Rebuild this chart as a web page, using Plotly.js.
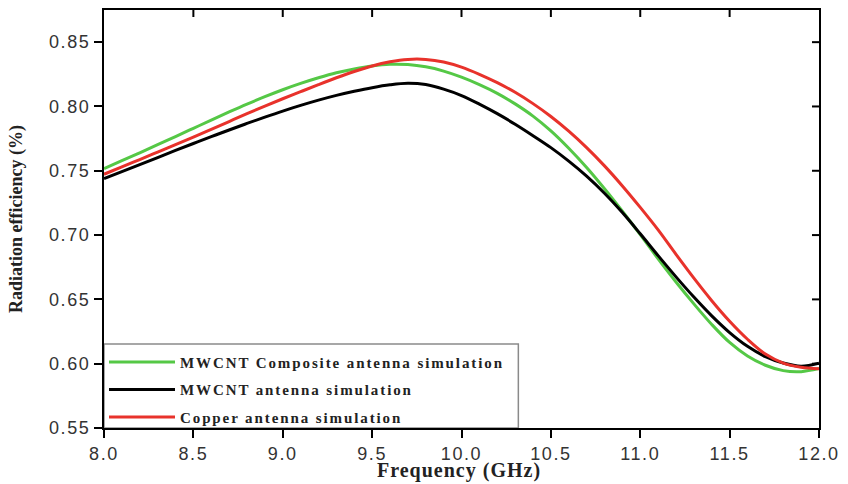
<!DOCTYPE html>
<html>
<head>
<meta charset="utf-8">
<script src="https://cdn.plot.ly/plotly-3.0.1.min.js"></script>
<style>
  html, body { margin: 0; padding: 0; background: #fff; }
  #chart { width: 848px; height: 484px; }
  .legendtext { letter-spacing: 1.9px; }
  .xtick text, .ytick text { letter-spacing: 1.6px; }
  .annotation-text { letter-spacing: 1px; }
</style>
</head>
<body>
<div id="chart"></div>
<script>
// Frequency (GHz)
const freq = [8.0, 8.1, 8.2, 8.3, 8.4, 8.5, 8.6, 8.7, 8.8, 8.9,
              9.0, 9.1, 9.2, 9.3, 9.4, 9.5, 9.6, 9.7, 9.8, 9.9,
              10.0, 10.1, 10.2, 10.3, 10.4, 10.5, 10.6, 10.7, 10.8, 10.9,
              11.0, 11.1, 11.2, 11.3, 11.4, 11.5, 11.6, 11.7, 11.8, 11.9, 12.0];

// MWCNT Composite antenna simulation
const compositeEff = [0.7517, 0.7578, 0.7640, 0.7703, 0.7766, 0.7830, 0.7894, 0.7957, 0.8018, 0.8076,
                      0.8130, 0.8179, 0.8223, 0.8262, 0.8292, 0.8315, 0.8328, 0.8326, 0.8308, 0.8275,
                      0.8228, 0.8170, 0.8102, 0.8020, 0.7925, 0.7810, 0.7675, 0.7525, 0.7360, 0.7185,
                      0.7003, 0.6815, 0.6635, 0.6465, 0.6305, 0.6165, 0.6060, 0.5988, 0.5946, 0.5938, 0.5962];

// MWCNT antenna simulation
const mwcntEff = [0.7439, 0.7493, 0.7548, 0.7603, 0.7658, 0.7712, 0.7765, 0.7817, 0.7868, 0.7917,
                  0.7964, 0.8008, 0.8049, 0.8086, 0.8118, 0.8146, 0.8168, 0.8180, 0.8170, 0.8135,
                  0.8085, 0.8018, 0.7944, 0.7862, 0.7773, 0.7680, 0.7575, 0.7458, 0.7325, 0.7175,
                  0.7010, 0.6840, 0.6675, 0.6518, 0.6372, 0.6242, 0.6135, 0.6055, 0.6005, 0.5980, 0.6003];

// Copper antenna simulation
const copperEff = [0.7473, 0.7530, 0.7587, 0.7645, 0.7703, 0.7762, 0.7822, 0.7883, 0.7944, 0.8003,
                   0.8060, 0.8115, 0.8170, 0.8223, 0.8272, 0.8315, 0.8347, 0.8366, 0.8366, 0.8346,
                   0.8306, 0.8250, 0.8185, 0.8110, 0.8022, 0.7922, 0.7808, 0.7680, 0.7538, 0.7382,
                   0.7215, 0.7040, 0.6850, 0.6665, 0.6490, 0.6330, 0.6190, 0.6075, 0.6005, 0.5972, 0.5960];

const seriesNames = ["MWCNT Composite antenna simulation", "MWCNT antenna simulation", "Copper antenna simulation"];
const xTicks = [8.0, 8.5, 9.0, 9.5, 10.0, 10.5, 11.0, 11.5, 12.0];
const yTicks = [0.55, 0.60, 0.65, 0.70, 0.75, 0.80, 0.85];
const xTitle = "Frequency (GHz)";
const yTitle = "Radiation efficiency (%)";

const colors = ["#55c846", "#000000", "#e8322b"];
const ys = [compositeEff, mwcntEff, copperEff];

const traces = ys.map((y, i) => ({
  x: freq, y: y, type: "scatter", mode: "lines",
  name: seriesNames[i], legendgroup: "g" + i,
  line: { color: colors[i], width: 3, shape: "spline", smoothing: 1 }
}));

const tickFont = { family: "Liberation Sans, Arial, sans-serif", size: 18, color: "#333333" };
const serifBold = "Liberation Serif, Times New Roman, serif";

const W = 848, H = 484, M = { l: 104, r: 29, t: 10, b: 56 };
const plotW = W - M.l - M.r, plotH = H - M.t - M.b;
const xRange = [8.0, 12.0], yRange = [0.55, 0.875];
const innerTick = 7;

// mirrored inside ticks on the top and right frame (axis-frame decoration)
const xFrac = v => (v - xRange[0]) / (xRange[1] - xRange[0]);
const yFrac = v => (v - yRange[0]) / (yRange[1] - yRange[0]);
const frameTicks = [];
xTicks.slice(1, -1).forEach(v => frameTicks.push({
  type: "line", xref: "paper", yref: "paper", x0: xFrac(v), x1: xFrac(v),
  y0: 1, y1: 1 - innerTick / plotH, line: { color: "#000", width: 2 }
}));
yTicks.slice(1).forEach(v => frameTicks.push({
  type: "line", xref: "paper", yref: "paper", x0: 1, x1: 1 - innerTick / plotW,
  y0: yFrac(v), y1: yFrac(v), line: { color: "#000", width: 2 }
}));

const layout = {
  width: W, height: H,
  margin: M,
  paper_bgcolor: "#ffffff", plot_bgcolor: "#ffffff",
  showlegend: true,
  legend: {
    x: 0, y: -0.014, xanchor: "left", yanchor: "bottom",
    bgcolor: "rgba(0,0,0,0)", borderwidth: 0,
    font: { family: serifBold, size: 15, color: "#222222", weight: "bold" },
    itemwidth: 66, tracegroupgap: 5, traceorder: "grouped"
  },
  shapes: [{
    type: "rect", xref: "paper", yref: "paper", x0: 0, x1: 0.5795, y0: 0, y1: 0.201,
    line: { color: "#8a8a8a", width: 1.5 }, fillcolor: "#ffffff", layer: "below"
  }].concat(frameTicks),
  xaxis: {
    range: xRange, tickvals: xTicks, ticktext: xTicks.map(v => v.toFixed(1)),
    showline: true, linecolor: "#000", linewidth: 2, mirror: true,
    ticks: "outside", ticklen: 8, tickwidth: 2, tickcolor: "#000",
    showgrid: false, zeroline: false, tickfont: tickFont
  },
  yaxis: {
    range: yRange, tickvals: yTicks, ticktext: yTicks.map(v => v.toFixed(2)),
    showline: true, linecolor: "#000", linewidth: 2, mirror: true,
    ticks: "outside", ticklen: 8, tickwidth: 2, tickcolor: "#000",
    showgrid: false, zeroline: false, tickfont: tickFont,
    title: { text: "<b>" + yTitle + "</b>", font: { family: serifBold, size: 18, color: "#222" }, standoff: 22 }
  },
  annotations: [{
    text: "<b>" + xTitle + "</b>", xref: "paper", yref: "paper", x: 0.497, y: -0.07,
    xanchor: "center", yanchor: "top", showarrow: false,
    font: { family: serifBold, size: 20, color: "#222" }
  }]
};

Plotly.newPlot("chart", traces, layout, { staticPlot: true, displayModeBar: false });
</script>
</body>
</html>
